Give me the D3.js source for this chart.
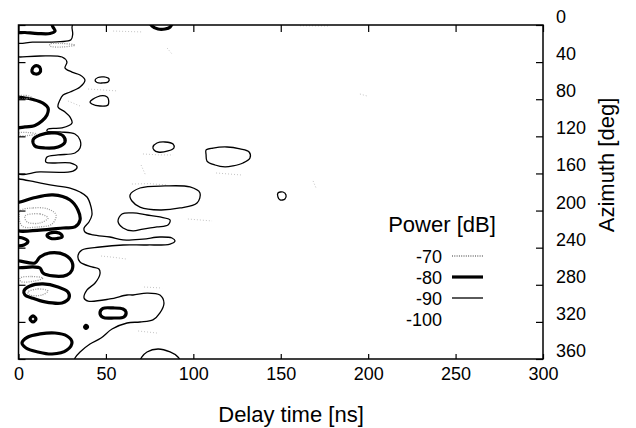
<!DOCTYPE html>
<html>
<head>
<meta charset="utf-8">
<script src="https://cdn.jsdelivr.net/npm/d3@7"></script>
<style>
  body { margin: 0; background: #fff; }
</style>
</head>
<body>
<script>
const overallWidth = 636
const overallHeight = 428
const margin = { left: 18.5, top: 25, right: 93, bottom: 69 }
const width = overallWidth - margin.left - margin.right
const height = overallHeight - margin.top - margin.bottom

// axes
const delayTicks = [0, 50, 100, 150, 200, 250, 300]
const azimuthTicks = [0, 40, 80, 120, 160, 200, 240, 280, 320, 360]
const levels = [-70, -80, -90, -100]

// contour lines, points are [delay ns, azimuth deg]
// -90 dB (thin)
const level90 = [
  [[30.6, -3], [30.6, 3], [31, 10], [30, 16], [24, 18], [18, 18.5], [8, 18.5], [-2, 18.5], [-2, -3]],
  [[-2, 34.5], [0.9, 34.5], [12.3, 33.4], [24.9, 34.5], [27.7, 39.9], [26.6, 46.3], [30.6, 50.7], [35.2, 53.9], [38, 59.3], [35.2, 66.8], [29.5, 72.2], [25.5, 75.4], [23.7, 80.8], [22.6, 88.4], [26.6, 93.8], [29.5, 99.2], [30.6, 105.6], [24.9, 111], [16.9, 112.1], [16.3, 114.3], [23.7, 115.3], [32.3, 117.5], [35.2, 123.9], [35.2, 132.6], [32.3, 138], [22.6, 140.1], [16.3, 142.3], [15.7, 147.7], [29.5, 148.7], [33.5, 153], [31.2, 157.4], [12.3, 158.4], [-2, 158.4]],
  [[-2, 166], [0.3, 166], [9.4, 169.2], [18, 172.4], [29.5, 175.7], [35.2, 180], [39.2, 185.4], [41.5, 196.2], [42, 204.8], [40.3, 212.3], [37.5, 218.8], [38, 223.1], [42.6, 226.3], [52.3, 228.5], [59.8, 231.7], [71.2, 230.7], [80.9, 228.5], [87.8, 229.6], [89.5, 232.8], [86.7, 236.1], [73.5, 237.1], [59.8, 237.1], [46.6, 239.3], [36.3, 242.5], [34, 249], [35.2, 255.4], [42, 260.8], [46, 263], [46.6, 268.4], [43.8, 278.1], [39.2, 285.6], [37.5, 294.2], [39.8, 297.5], [52.3, 295.3], [62.1, 291], [65.5, 291], [73.5, 288.9], [80.9, 291], [83.2, 299.6], [80.9, 310.4], [76.9, 317.9], [69.5, 320.1], [62.1, 321.2], [53.5, 327.7], [47.2, 337.4], [40.9, 343.8], [35.2, 352.4], [32.3, 358.9], [31.7, 363], [-2, 363]],
  [[43.8, 59.3], [45.5, 56.6], [48.9, 56], [51.8, 58.2], [51.2, 61.4], [47.8, 62.5], [44.9, 62]],
  [[40.9, 83], [44.9, 77.6], [49.5, 76.5], [51.2, 78.7], [51.2, 86.2], [46.6, 87.3], [42, 85.1]],
  [[76.9, 131.5], [79.2, 127.2], [83.8, 126.1], [88.4, 128.3], [88.9, 132.6], [85.5, 135.8], [79.8, 136.9], [77.5, 134.7]],
  [[107.3, 134.7], [111.3, 132.6], [119.3, 131.5], [126.7, 133.6], [131.9, 136.9], [132.4, 143.3], [128.4, 148.7], [122.7, 151.9], [118.1, 153], [112.4, 150.9], [107.8, 146.6], [107.3, 140.1]],
  [[148.4, 181.1], [151.3, 180], [153, 183.2], [152.4, 187.5], [149.6, 188.6], [148.4, 185.4]],
  [[63.8, 183.2], [69.5, 175.7], [83.8, 173.5], [98.1, 174.6], [103.8, 181.1], [102.1, 191.9], [92.4, 197.2], [80.9, 199.4], [69.5, 196.2], [64.9, 189.7]],
  [[56.9, 211.4], [59.2, 203.7], [65.5, 202.6], [73.5, 204.8], [80.9, 206.9], [86.7, 210.2], [85.5, 215.6], [79.2, 217.7], [71.2, 219.9], [65.5, 222], [59.8, 218.8]],
  [[69.5, 363], [70.6, 357.8], [73.5, 352.4], [79.8, 349.2], [86.7, 352.4], [91.2, 357.8], [92.4, 363]]
]

// -80 dB (thick)
const level80 = [
  [[-2, -3], [18, -3], [19.7, 2.2], [20.9, 6.5], [18, 9.2], [11.2, 9.2], [3.7, 8.1], [-2, 7.5]],
  [[75.2, -3], [76.4, 1.1], [79.8, 4.3], [83.8, 4.3], [86.7, 2.2], [87.8, -3]],
  [[7.7, 48.5], [8.9, 44.7], [11.2, 44.2], [12.6, 47.4], [12, 51.7], [9.7, 52.8], [8, 51.2]],
  [[-2, 78.7], [3.7, 78.7], [8.3, 80.3], [14, 84.1], [16.9, 89.5], [16.3, 97], [13.4, 103.5], [9.4, 108.3], [3.7, 109.9], [-2, 109.9]],
  [[8.3, 123.9], [12.3, 118.6], [20.9, 116.4], [25.5, 119.6], [26.6, 126.1], [22.6, 131.5], [15.2, 132.6], [9.4, 130.4]],
  [[-2, 191.8], [0.9, 190.8], [8.3, 186.5], [19.7, 183.2], [29.5, 188.6], [34, 199.4], [35.2, 210.2], [32.3, 217.7], [25.5, 218.8], [12.3, 221], [-2, 219.9]],
  [[16.3, 226.9], [18, 224.2], [21.5, 223.6], [24.3, 225.3], [24.9, 228.5], [22, 230.1], [18.6, 230.1]],
  [[-2, 229.6], [3.1, 230.1], [5.4, 233.4], [3.1, 237.1], [-2, 237.1]],
  [[-2, 254.4], [9.4, 256.5], [12.3, 250], [18, 245.7], [26.6, 247.9], [30.6, 255.4], [30.6, 264.1], [27.7, 269.4], [19.7, 270.5], [14, 267.3], [12.3, 261.9], [8.3, 260.8], [-2, 260.8]],
  [[3.1, 286.7], [6.6, 281.3], [14, 279.1], [22.6, 282.4], [28.3, 287.8], [28.9, 294.2], [24.9, 299.6], [15.2, 298.5], [7.7, 294.2], [3.7, 291]],
  [[6.6, 316.9], [8.3, 313.6], [10, 316.9], [8.3, 320.1]],
  [[37.8, 325.5], [38.6, 323.8], [39.5, 325.5], [38.6, 327.1]],
  [[46.6, 310.4], [48.3, 305.5], [54.1, 305], [59.8, 306.1], [61.5, 309.3], [60.3, 314.7], [54.6, 315.8], [48.3, 315.2]],
  [[2, 342.7], [5.4, 336.3], [12.3, 333], [20.9, 332], [27.7, 335.2], [30.6, 341.7], [27.7, 350.3], [19.2, 354.6], [11.2, 352.4], [4.3, 348.1]]
]

// -70 dB (grey stipple)
const level70 = [
  [[0.9, 200.5], [8.3, 197.2], [16.9, 198.3], [21.5, 204.8], [19.2, 214.5], [11.2, 217.7], [2, 216.6]],
  [[3.7, 205.9], [12.3, 203.7], [16.9, 208], [12.3, 213.4], [4.9, 212.3]],
  [[0.9, 272.7], [7.7, 271.1], [14, 272.7], [9.4, 275.9], [1.4, 276.5]],
  [[5.4, 287.8], [11.2, 284.5], [16.9, 286.7], [13.4, 291], [6.6, 291]],
  [[0.3, 116.4], [5.4, 115.9], [10.6, 117.5], [5.4, 119.1], [0.3, 119.1]],
  [[0.3, 76.5], [4.3, 76], [7.2, 77.6], [3.7, 79.7], [0.3, 79.7]],
  [[18, 20.5], [24.9, 19.9], [32.3, 21.6], [24.9, 23.7], [18, 22.6]]
]

// -100 dB, only scattered fragments survive
const level100 = [
  [[54.1, 6.5], [62, 7], [71.2, 7.5]],
  [[85, 24.8], [87.8, 31.3]],
  [[39.8, 69], [48, 70], [56.9, 71.1]],
  [[28.3, 81.9], [35.2, 87.3]],
  [[71.2, 139], [80, 140], [88.4, 140.1]],
  [[70.1, 150.9], [72.9, 162.7]],
  [[64.9, 171.4], [75, 171], [84.4, 172.4]],
  [[96.9, 209.1], [110.7, 211.2]],
  [[47.2, 249], [55, 250.5], [61.5, 252.2]],
  [[71.8, 282.4], [82.1, 283.5]],
  [[68.4, 329.8], [79.2, 332]],
  [[113, 159.5], [127.8, 161.7]],
  [[195.3, 74.4], [199.3, 76.5]],
  [[168.5, 168.1], [170.2, 175.7]],
  [[161, 0.8], [178.2, 1.1]]
]

const lineStyle = {
  '-70': { stroke: '#9a9a9a', width: 1.3, dash: '1,1.3' },
  '-80': { stroke: '#000', width: 3.2, dash: null },
  '-90': { stroke: '#000', width: 1.3, dash: null },
  '-100': { stroke: '#c4c4c4', width: 1, dash: '1,2' }
}

const font = "'Liberation Sans', Arial, sans-serif"

const svg = d3.select('body').append('svg')
  .attr('width', overallWidth)
  .attr('height', overallHeight)
  .style('font-family', font)

const g = svg.append('g')
  .attr('transform', `translate(${margin.left},${margin.top})`)

const x = d3.scaleLinear().domain([0, 300]).range([0, width])
const y = d3.scaleLinear().domain([0, 360]).range([0, height])

svg.append('defs').append('clipPath').attr('id', 'plot')
  .append('rect').attr('width', width).attr('height', height)

const closed = d3.line()
  .x(d => x(d[0]))
  .y(d => y(d[1]))
  .curve(d3.curveCatmullRomClosed.alpha(0.5))
const open = d3.line()
  .x(d => x(d[0]))
  .y(d => y(d[1]))

const plot = g.append('g').attr('clip-path', 'url(#plot)')

const drawLevel = (lines, level, gen) => {
  const s = lineStyle[level]
  plot.append('g')
    .attr('class', `level${-level}`)
    .selectAll('path')
    .data(lines)
    .join('path')
    .attr('d', gen)
    .attr('fill', 'none')
    .attr('stroke', s.stroke)
    .attr('stroke-width', s.width)
    .attr('stroke-dasharray', s.dash)
    .attr('stroke-linejoin', 'round')
}

drawLevel(level100, '-100', open)
drawLevel(level90, '-90', closed)
drawLevel(level80, '-80', closed)
drawLevel(level70, '-70', closed)

// axes, all ticks point inwards
const styleAxis = a => a
  .call(s => s.select('.domain').remove())
  .call(s => s.selectAll('.tick line').attr('stroke', '#000').attr('stroke-width', 1.2))
  .attr('font-family', font)
  .attr('font-size', 18)
  .selectAll('text').attr('fill', '#000')

g.append('g')
  .attr('transform', `translate(0,${height})`)
  .call(d3.axisBottom(x).tickValues(delayTicks).tickSizeInner(-5).tickSizeOuter(0).tickPadding(8))
  .call(styleAxis)

g.append('g')
  .call(d3.axisTop(x).tickValues(delayTicks).tickSizeInner(-7).tickSizeOuter(0).tickFormat(() => ''))
  .call(styleAxis)

g.append('g')
  .call(d3.axisLeft(y).tickValues(azimuthTicks).tickSizeInner(-7).tickSizeOuter(0).tickFormat(() => ''))
  .call(styleAxis)

g.append('g')
  .attr('transform', `translate(${width},0)`)
  .call(d3.axisRight(y).tickValues(azimuthTicks).tickSizeInner(-7).tickSizeOuter(0).tickPadding(13))
  .call(styleAxis)
  .call(s => s.selectAll('text').attr('dy', '-0.14em'))

g.append('rect')
  .attr('width', width)
  .attr('height', height)
  .attr('fill', 'none')
  .attr('stroke', '#000')
  .attr('stroke-width', 1.5)

svg.append('text')
  .text('Delay time [ns]')
  .attr('x', 291)
  .attr('y', 422)
  .style('font-size', '22px')
  .style('text-anchor', 'middle')

svg.append('text')
  .text('Azimuth [deg]')
  .attr('transform', 'translate(614,165) rotate(-90)')
  .style('font-size', '22px')
  .style('text-anchor', 'middle')

// legend
const legend = svg.append('g').attr('class', 'legend')
const rowY = d3.scaleLinear().domain([0, 1]).range([263, 284])

legend.append('text')
  .text('Power [dB]')
  .attr('x', 442)
  .attr('y', 232)
  .style('font-size', '22px')
  .style('text-anchor', 'middle')

legend.selectAll('.entry')
  .data(levels)
  .join('g')
  .attr('class', 'entry')
  .each((d, i, nodes) => {
    const e = d3.select(nodes[i])
    const s = lineStyle[d]
    e.append('text')
      .text(d)
      .attr('x', 442)
      .attr('y', rowY(i))
      .style('font-size', '18px')
      .style('text-anchor', 'end')
    if (d !== -100) {
      e.append('line')
        .attr('x1', 452)
        .attr('x2', 483)
        .attr('y1', rowY(i) - 7)
        .attr('y2', rowY(i) - 7)
        .attr('stroke', s.stroke)
        .attr('stroke-width', d === -70 ? 2 : s.width)
        .attr('stroke-dasharray', s.dash)
    }
  })
</script>
</body>
</html>
